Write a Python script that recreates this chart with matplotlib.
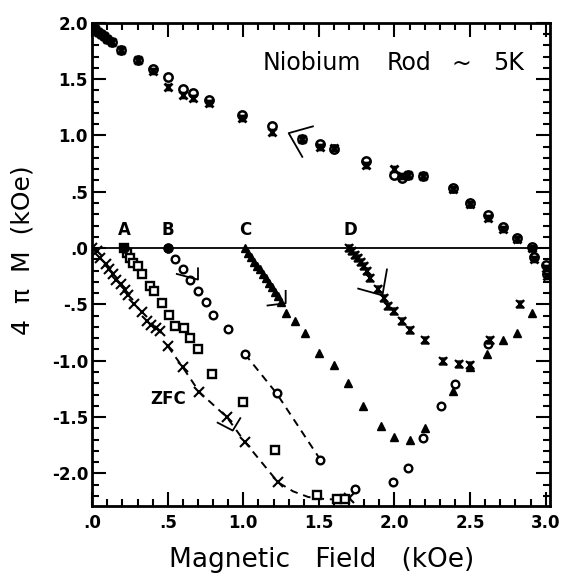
import numpy as np
import matplotlib
matplotlib.use("Agg")
import matplotlib.pyplot as plt
from matplotlib.path import Path
from matplotlib.ticker import MultipleLocator, FuncFormatter

# Upper (decreasing field) branch, all runs overlap here
top_field = [0.0, 0.02, 0.04, 0.06, 0.08, 0.10, 0.13, 0.19, 0.30, 0.40, 0.50, 0.60, 0.67,
             0.77, 0.99, 1.19, 1.39, 1.51, 1.60, 1.81, 2.00, 2.05, 2.09, 2.19, 2.39, 2.50,
             2.62, 2.72, 2.81, 2.91, 2.92, 3.00, 3.01]
top_m_x = [1.96, 1.94, 1.92, 1.90, 1.88, 1.86, 1.83, 1.76, 1.67, 1.57, 1.43, 1.36, 1.33,
           1.29, 1.15, 1.03, 0.97, 0.90, 0.89, 0.74, 0.70, 0.64, 0.65, 0.64, 0.52, 0.39,
           0.27, 0.17, 0.08, 0.00, -0.10, -0.18, -0.25]
top_m_o = [1.96, 1.94, 1.92, 1.90, 1.88, 1.86, 1.83, 1.76, 1.67, 1.59, 1.52, 1.41, 1.38,
           1.31, 1.18, 1.08, 0.97, 0.92, 0.88, 0.77, 0.65, 0.62, 0.65, 0.64, 0.53, 0.40,
           0.29, 0.19, 0.09, 0.01, -0.08, -0.15, -0.23]

# Zero-field-cooled run (crosses)
zfc_field = [0.0, 0.03, 0.05, 0.09, 0.11, 0.14, 0.16, 0.19, 0.22, 0.24, 0.28, 0.33, 0.36,
             0.39, 0.42, 0.45, 0.50, 0.60, 0.71, 0.89, 1.01, 1.23, 1.70]
zfc_m = [0.0, -0.03, -0.09, -0.14, -0.19, -0.23, -0.28, -0.32, -0.37, -0.42, -0.50, -0.57,
         -0.65, -0.68, -0.71, -0.74, -0.87, -1.06, -1.28, -1.50, -1.72, -2.08, -2.22]
zfc_guide_field = [0.50, 0.60, 0.71, 0.89, 1.01, 1.23, 1.33, 1.43, 1.55, 1.65, 1.72]
zfc_guide_m = [-0.87, -1.06, -1.28, -1.50, -1.72, -2.08, -2.16, -2.21, -2.23, -2.23, -2.22]

# Run A (squares)
a_field = [0.21, 0.23, 0.25, 0.27, 0.30, 0.33, 0.38, 0.41, 0.46, 0.51, 0.55, 0.61, 0.65,
           0.70, 0.79, 1.00, 1.21, 1.49, 1.62, 1.67]
a_m = [0.0, -0.04, -0.09, -0.13, -0.16, -0.23, -0.34, -0.38, -0.49, -0.59, -0.69, -0.71,
       -0.80, -0.90, -1.12, -1.37, -1.79, -2.19, -2.23, -2.23]

# Run B (circles)
b_field = [0.50, 0.55, 0.60, 0.65, 0.70, 0.75, 0.80, 0.90, 1.01, 1.22, 1.51, 1.74, 1.99,
           2.09, 2.19, 2.31, 2.40, 2.62]
b_m = [0.0, -0.10, -0.19, -0.28, -0.38, -0.48, -0.59, -0.72, -0.94, -1.29, -1.88, -2.14,
       -2.08, -1.95, -1.69, -1.40, -1.21, -0.85]
b_guide_field = [1.01, 1.22, 1.51]
b_guide_m = [-0.94, -1.29, -1.88]

# Run C (filled triangles)
c_field = [1.01, 1.03, 1.05, 1.07, 1.09, 1.11, 1.13, 1.15, 1.17, 1.19, 1.21, 1.23, 1.25,
           1.28, 1.34, 1.41, 1.50, 1.60, 1.69, 1.79, 1.91, 2.00, 2.10, 2.20, 2.39, 2.50,
           2.61, 2.72, 2.81, 2.91]
c_m = [0.0, -0.04, -0.08, -0.12, -0.16, -0.19, -0.23, -0.27, -0.31, -0.35, -0.39, -0.43,
       -0.48, -0.58, -0.65, -0.75, -0.93, -1.04, -1.20, -1.40, -1.58, -1.68, -1.70, -1.60,
       -1.27, -1.06, -0.94, -0.82, -0.75, -0.58]

# Run D (hourglass crosses)
d_field = [1.70, 1.72, 1.74, 1.76, 1.78, 1.80, 1.82, 1.84, 1.89, 1.93, 1.96, 2.00, 2.05,
           2.10, 2.20, 2.32, 2.43, 2.50, 2.63, 2.83]
d_m = [0.0, -0.03, -0.06, -0.09, -0.12, -0.16, -0.20, -0.27, -0.36, -0.44, -0.51, -0.56,
       -0.65, -0.73, -0.82, -1.00, -1.03, -1.04, -0.82, -0.50]

run_labels = ["A", "B", "C", "D"]
run_starts = [0.21, 0.50, 1.01, 1.71]

# title words, placed one by one like the original lettering
title_words = ["Niobium", "Rod", "~", "5K"]
title_pos = [1.13, 1.95, 2.38, 2.65]

# hand-drawn check marks on the original figure
checks = [
    ([1.46, 1.30, 1.39], [1.08, 1.02, 0.81]),
    ([0.56, 0.70, 0.70], [-0.23, -0.28, -0.18]),
    ([1.16, 1.28, 1.28], [-0.51, -0.49, -0.38]),
    ([1.76, 1.92, 1.95], [-0.36, -0.42, -0.19]),
    ([0.83, 0.93, 0.98], [-1.55, -1.62, -1.51]),
]

hourglass = Path([(-1, 1), (1, 1), (-1, -1), (1, -1), (-1, 1)],
                 [Path.MOVETO, Path.LINETO, Path.LINETO, Path.LINETO, Path.CLOSEPOLY])


def fmt(v, pos):
    s = "%.1f" % v
    if s.startswith("0"):
        s = s[1:]
    elif s.startswith("-0"):
        s = "-" + s[2:]
    return s


fig = plt.figure(figsize=(5.62, 5.83), dpi=100)
ax = fig.add_axes([0.164, 0.132, 0.815, 0.829])

ax.axhline(0, color="black", lw=1.3, zorder=1)

# top branch: overlapping symbols make dark blobs
ax.plot(top_field, top_m_o, "o", ms=6, mfc="none", mec="black", mew=1.8)
ax.plot(top_field, top_m_x, "x", ms=6, color="black", mew=2)
ax.plot(top_field, top_m_x, marker=hourglass, ls="none", ms=4.5, color="black")

ax.plot(zfc_guide_field, zfc_guide_m, "--", color="black", lw=1.4, dashes=(4, 3))
ax.plot(b_guide_field, b_guide_m, "--", color="black", lw=1.4, dashes=(4, 3))

ax.plot(zfc_field, zfc_m, "x", ms=6.5, color="black", mew=1.5)
ax.plot(a_field, a_m, "s", ms=5.5, mfc="white", mec="black", mew=1.7)
ax.plot(b_field, b_m, "o", ms=5.5, mfc="white", mec="black", mew=1.7)
ax.plot(c_field, c_m, "^", ms=6, color="black")
ax.plot(d_field, d_m, marker=hourglass, ls="none", ms=5, color="black")
ax.plot(d_field, d_m, "x", ms=5.5, color="black", mew=1.5)
ax.plot(run_starts[:2], [0, 0], "o", ms=6.5, color="black")

for lab, h in zip(run_labels, run_starts):
    ax.text(h, 0.08, lab, ha="center", va="bottom", fontsize=12, fontweight="bold")

for xs, ys in checks:
    ax.plot(xs, ys, color="black", lw=1.3)

for word, h in zip(title_words, title_pos):
    ax.text(h, 1.64, word, fontsize=17, va="center", ha="left")
ax.text(0.50, -1.34, "ZFC", fontsize=12, fontweight="bold", ha="center", va="center")

ax.set_xlim(0, 3.03)
ax.set_ylim(-2.29, 2.0)
ax.xaxis.set_major_locator(MultipleLocator(0.5))
ax.xaxis.set_minor_locator(MultipleLocator(0.1))
ax.yaxis.set_major_locator(MultipleLocator(0.5))
ax.yaxis.set_minor_locator(MultipleLocator(0.1))
ax.xaxis.set_major_formatter(FuncFormatter(fmt))
ax.yaxis.set_major_formatter(FuncFormatter(fmt))
ax.tick_params(which="both", direction="in", top=True, right=True, width=1.5)
ax.tick_params(which="major", length=10, labelsize=12)
ax.tick_params(axis="x", which="major", pad=6)
ax.tick_params(axis="y", which="major", pad=3)
ax.tick_params(which="minor", length=5)
for lab in ax.get_xticklabels() + ax.get_yticklabels():
    lab.set_fontweight("bold")
for sp in ax.spines.values():
    sp.set_linewidth(2)

ax.set_xlabel("Magnetic   Field   (kOe)", fontsize=19)
ax.set_ylabel("4  π  M  (kOe)", fontsize=18)
ax.xaxis.set_label_coords(0.50, -0.085)
ax.yaxis.set_label_coords(-0.125, 0.53)

fig.savefig("out.png", dpi=100)
